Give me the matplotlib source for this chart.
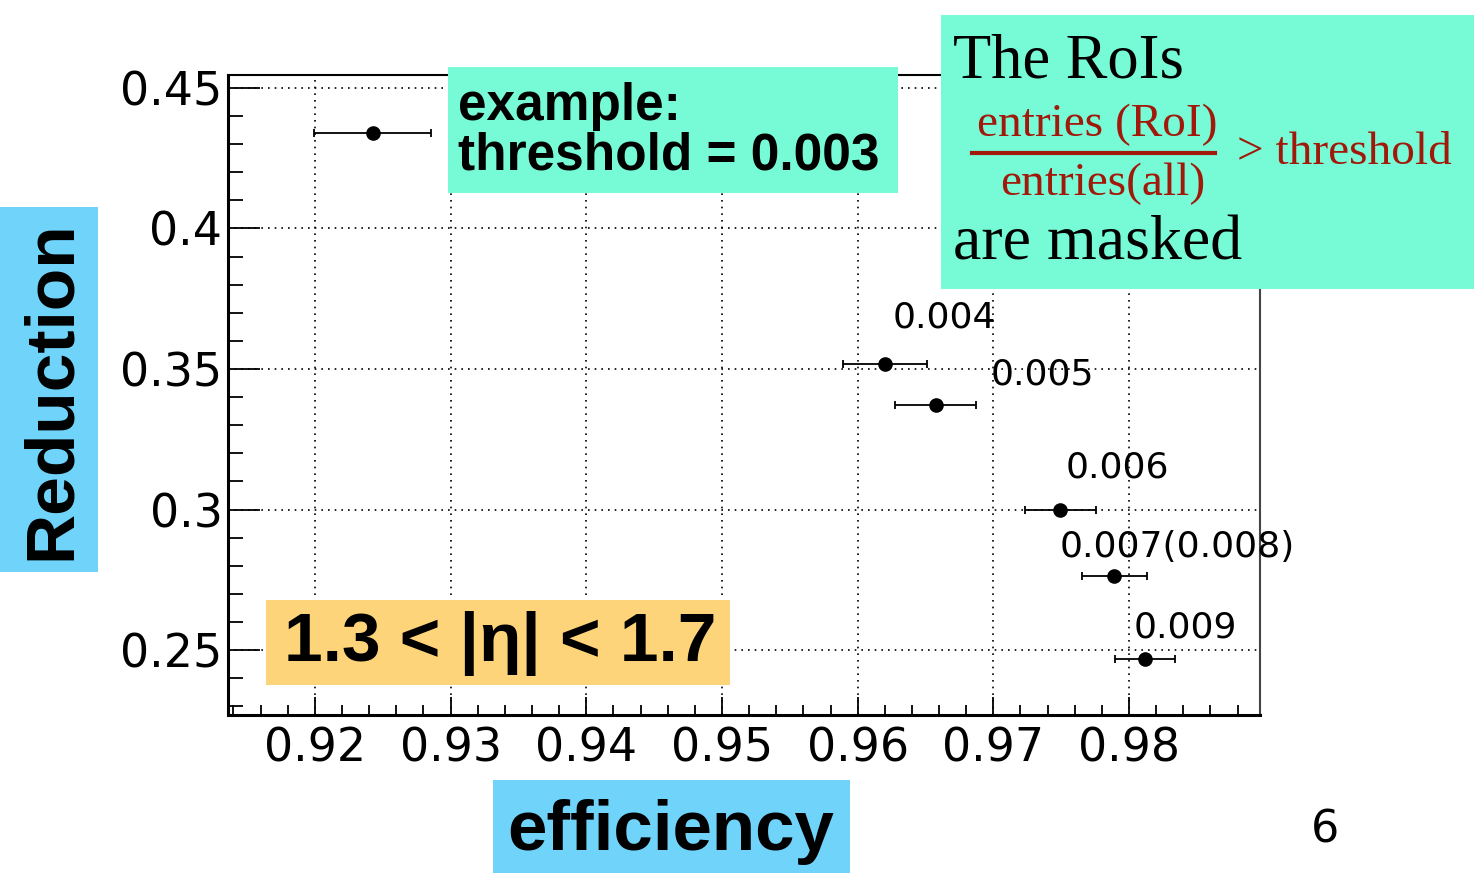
import numpy as np
import matplotlib
matplotlib.use('Agg')
from matplotlib import pyplot as plt
from matplotlib.patches import Rectangle
from matplotlib.lines import Line2D
from matplotlib.ticker import MultipleLocator

# efficiency vs reduction for different mask thresholds

efficiency = [0.92427, 0.9620, 0.96575, 0.97494, 0.97892, 0.98118]
efficiency_err = [0.0043, 0.0031, 0.0030, 0.0026, 0.0024, 0.0022]
reduction = [0.4340, 0.3518, 0.3372, 0.3000, 0.2762, 0.2468]
thresholds = ['', '0.004', '0.005', '0.006', '0.007(0.008)', '0.009']
label_offsets = [(0, 0), (60, 46), (107, 30), (57, 42), (63, 29), (40, 32)]

x_ticks = [0.92, 0.93, 0.94, 0.95, 0.96, 0.97, 0.98]
x_ticklabels = ['0.92', '0.93', '0.94', '0.95', '0.96', '0.97', '0.98']
y_ticks = [0.25, 0.30, 0.35, 0.40, 0.45]
y_ticklabels = ['0.25', '0.3', '0.35', '0.4', '0.45']

W, H = 1474, 873
GREEN = '#76fbd6'
BLUE = '#6fd3fa'
ORANGE = '#fdd479'
DARKRED = '#a0190a'
BOLD = ['Liberation Sans', 'DejaVu Sans']
SERIF = ['Liberation Serif', 'DejaVu Serif']

fig = plt.figure(figsize=(W / 100, H / 100), dpi=100)
ax = fig.add_axes([228 / W, 1 - 715 / H, (1260 - 228) / W, (715 - 75) / H])


def px(x, y):
    return x / W, 1 - y / H


def box(x0, y0, x1, y1, color):
    fx, fy = px(x0, y1)
    fig.patches.append(Rectangle((fx, fy), (x1 - x0) / W, (y1 - y0) / H,
                                 transform=fig.transFigure, facecolor=color,
                                 edgecolor='none', zorder=5))


ax.errorbar(efficiency, reduction, xerr=efficiency_err, fmt='o', color='black',
            markersize=9.5, elinewidth=1.3, capsize=3, capthick=1.3, zorder=4)

for x, y, lab, (dx, dy) in zip(efficiency, reduction, thresholds, label_offsets):
    if lab:
        ax.annotate(lab, (x, y), xytext=(dx, dy), textcoords='offset pixels',
                    ha='center', va='center', fontsize=26)

ax.set_xticks(x_ticks)
ax.set_xticklabels(x_ticklabels)
ax.set_yticks(y_ticks)
ax.set_yticklabels(y_ticklabels)
ax.xaxis.set_minor_locator(MultipleLocator(0.002))
ax.yaxis.set_minor_locator(MultipleLocator(0.01))
ax.set_xlim(0.9136, 0.98965)
ax.set_ylim(0.2269, 0.4546)

ax.grid(True, which='major', color='black', linestyle=(0, (1, 3)), linewidth=1.2)
ax.tick_params(axis='both', which='both', direction='in', top=False, right=False,
               labelsize=33, color='black')
ax.tick_params(axis='y', which='major', length=23, width=1.3, pad=4)
ax.tick_params(axis='y', which='minor', length=11, width=1.3)
ax.tick_params(axis='x', which='major', length=13, width=1.3, pad=8)
ax.tick_params(axis='x', which='minor', length=7, width=1.3)
for side in ['left', 'bottom']:
    ax.spines[side].set_linewidth(2.2)
ax.spines['top'].set_linewidth(1.5)
ax.spines['right'].set_linewidth(1.5)
ax.spines['right'].set_color('#444444')

# axis titles on coloured boxes
box(0, 207, 98, 572, BLUE)
fig.text(*px(52, 390), 'Reduction', rotation=90, ha='center', va='center',
         fontsize=50, fontweight='bold', family=BOLD, zorder=6)
box(493, 780, 850, 873, BLUE)
fig.text(*px(671, 832), 'efficiency', ha='center', va='center',
         fontsize=51, fontweight='bold', family=BOLD, zorder=6)

# threshold example
box(448, 67, 898, 193, GREEN)
fig.text(*px(458, 131), 'example:\nthreshold = 0.003', ha='left', va='center',
         fontsize=37, fontweight='bold', family=BOLD, linespacing=1.0, zorder=6)

# eta range
box(266, 600, 730, 685, ORANGE)
fig.text(*px(500, 643), '1.3 < |η| < 1.7', ha='center', va='center',
         fontsize=50, fontweight='bold', family=BOLD, zorder=6)

# masking rule
box(941, 15, 1474, 289, GREEN)
fig.text(*px(953, 63), 'The RoIs', ha='left', va='center', fontsize=45,
         family=SERIF, zorder=6)
fig.text(*px(1097, 125), 'entries (RoI)', ha='center', va='center', fontsize=34,
         family=SERIF, color=DARKRED, zorder=6)
fig.lines.append(Line2D([972 / W, 1215 / W], [1 - 153 / H, 1 - 153 / H],
                        transform=fig.transFigure, color=DARKRED, linewidth=3, zorder=6))
fig.text(*px(1103, 184), 'entries(all)', ha='center', va='center', fontsize=34,
         family=SERIF, color=DARKRED, zorder=6)
fig.text(*px(1237, 153), '> threshold', ha='left', va='center', fontsize=34,
         family=SERIF, color=DARKRED, zorder=6)
fig.text(*px(953, 245), 'are masked', ha='left', va='center', fontsize=46,
         family=SERIF, zorder=6)

fig.text(*px(1325, 830), '6', ha='center', va='center', fontsize=32)

fig.savefig('out.png', dpi=100)
